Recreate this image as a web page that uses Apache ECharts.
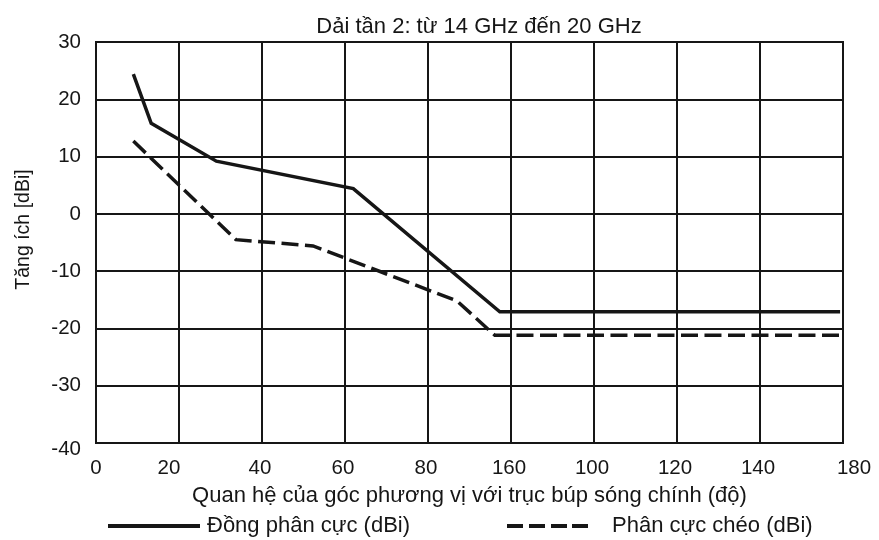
<!DOCTYPE html>
<html>
<head>
<meta charset="utf-8">
<script src="https://cdn.jsdelivr.net/npm/echarts@6/dist/echarts.min.js"></script>
<style>
  html, body { margin: 0; padding: 0; background: #fff; }
  #chart { width: 879px; height: 540px; }
</style>
</head>
<body>
<div id="chart"></div>
<script>
// Azimuth angle (deg) and gain (dBi) for each polarisation
const coPolAngle = [9, 13.3, 29, 62, 97.3, 179.3];
const coPolGain = [24.4, 15.8, 9.2, 4.4, -17.1, -17.1];
const crossPolAngle = [9, 33.7, 52.3, 87, 96.1, 180];
const crossPolGain = [12.7, -4.5, -5.6, -15.2, -21.2, -21.2];

// Tick labels along the angle axis, one per 20-degree gridline
const xTickLabels = ['0', '20', '40', '60', '80', '160', '100', '120', '140', '180'];
const yTickLabels = ['-40', '-30', '-20', '-10', '0', '10', '20', '30'];

const seriesNames = ['Đồng phân cực (dBi)', 'Phân cực chéo (dBi)'];
const titleText = 'Dải tần 2: từ 14 GHz đến 20 GHz';
const xAxisName = 'Quan hệ của góc phương vị với trục búp sóng chính (độ)';
const yAxisName = 'Tăng ích [dBi]';

const ink = '#161616';
const font = '"Liberation Sans", Arial, sans-serif';
const textSize = 22;
const tickSize = 20.5;

const pairs = (xs, ys) => xs.map((x, i) => [x, ys[i]]);

const chart = echarts.init(document.getElementById('chart'), null, { renderer: 'canvas' });

// Legend keys: a solid bar and a four-dash bar
const solidKey = 'path://M0,0 L92,0 L92,4 L0,4 Z';
const dashedKey = 'path://M0,0 h16 v4 h-16 Z M22,0 h16 v4 h-16 Z M44,0 h16 v4 h-16 Z M65,0 h16 v4 h-16 Z';

chart.setOption({
  backgroundColor: '#fff',
  animation: false,
  title: {
    text: titleText,
    left: 474,
    top: 11,
    textAlign: 'center',
    textStyle: { fontFamily: font, fontSize: textSize, fontWeight: 'normal', color: ink }
  },
  legend: [
    {
      left: 103, top: 510,
      itemWidth: 92, itemHeight: 4,
      data: [{ name: seriesNames[0], icon: solidKey }],
      textStyle: { fontFamily: font, fontSize: textSize, color: ink, padding: [0, 0, 0, 2] }
    },
    {
      left: 502, top: 510,
      itemWidth: 81, itemHeight: 4,
      data: [{ name: seriesNames[1], icon: dashedKey }],
      textStyle: { fontFamily: font, fontSize: textSize, color: ink, padding: [0, 0, 0, 19] }
    }
  ],
  grid: {
    left: 96, right: 36, top: 42, bottom: 97,
    show: true, borderColor: ink, borderWidth: 2, backgroundColor: 'transparent'
  },
  xAxis: {
    type: 'value',
    min: 0, max: 180, interval: 20,
    name: xAxisName,
    nameLocation: 'middle',
    nameGap: 42,
    nameTextStyle: { fontFamily: font, fontSize: textSize, color: ink },
    axisLine: { show: true, lineStyle: { color: ink, width: 2 } },
    axisTick: { show: false },
    splitLine: { show: true, lineStyle: { color: ink, width: 2 } },
    axisLabel: {
      margin: 15,
      fontFamily: font, fontSize: tickSize, color: ink,
      formatter: v => {
        const t = xTickLabels[Math.round(v / 20)];
        if (v === 0) return '{z|' + t + '}';
        if (v === 20) return '{l|' + t + '}';
        if (v === 180) return '{r|' + t + '}';
        return '{n|' + t + '}';
      },
      rich: {
        z: { fontFamily: font, fontSize: tickSize, color: ink },
        n: { fontFamily: font, fontSize: tickSize, color: ink, padding: [0, 4, 0, 0] },
        l: { fontFamily: font, fontSize: tickSize, color: ink, padding: [0, 20, 0, 0] },
        r: { fontFamily: font, fontSize: tickSize, color: ink, padding: [0, 0, 0, 22] }
      }
    }
  },
  yAxis: {
    type: 'value',
    min: -40, max: 30, interval: 10,
    name: yAxisName,
    nameLocation: 'middle',
    nameGap: 62,
    nameTextStyle: { fontFamily: font, fontSize: 19.5, color: ink, padding: [0, 0, 0, 26] },
    axisLine: { show: true, lineStyle: { color: ink, width: 2 } },
    axisTick: { show: false },
    splitLine: { show: true, lineStyle: { color: ink, width: 2 } },
    axisLabel: {
      margin: 15,
      fontFamily: font, fontSize: tickSize, color: ink,
      formatter: v => {
        const t = yTickLabels[Math.round((v + 40) / 10)];
        return v === -40 ? '{b|' + t + '}' : '{n|' + t + '}';
      },
      rich: {
        n: { fontFamily: font, fontSize: tickSize, color: ink },
        b: { fontFamily: font, fontSize: tickSize, color: ink, padding: [12, 0, 0, 0] }
      }
    }
  },
  series: [
    {
      name: seriesNames[0],
      type: 'line',
      data: pairs(coPolAngle, coPolGain),
      symbol: 'none',
      lineStyle: { color: ink, width: 3.5, type: 'solid', join: 'miter' },
      itemStyle: { color: ink },
      z: 3
    },
    {
      name: seriesNames[1],
      type: 'line',
      data: pairs(crossPolAngle, crossPolGain),
      symbol: 'none',
      lineStyle: { color: ink, width: 3.5, type: [17, 6.5], join: 'miter' },
      itemStyle: { color: ink },
      z: 3
    }
  ]
});
</script>
</body>
</html>
